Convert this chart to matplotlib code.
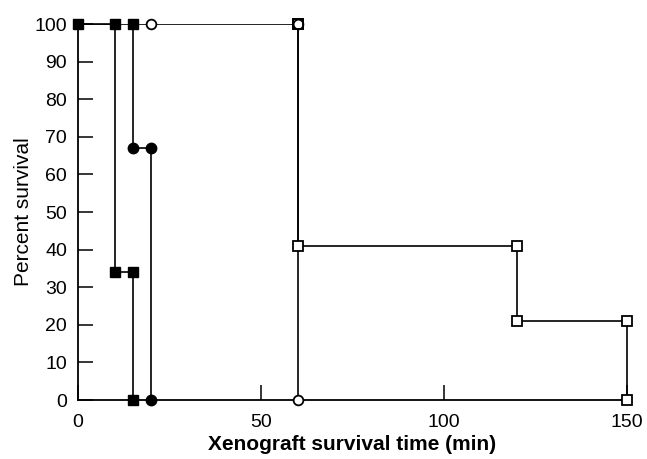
import matplotlib.pyplot as plt

plt.rcParams['font.family'] = ['Liberation Sans', 'DejaVu Sans']

# survival curves (time in min, percent survival), step vertices
t_sq_fill = [0, 10, 10, 15, 15]
s_sq_fill = [100, 100, 34, 34, 0]

t_ci_fill = [15, 15, 20, 20]
s_ci_fill = [100, 67, 67, 0]

t_ci_open = [0, 20, 60, 60]
s_ci_open = [100, 100, 100, 0]

t_sq_open = [60, 60, 120, 120, 150, 150]
s_sq_open = [100, 41, 41, 21, 21, 0]

xticks = [0, 50, 100, 150]
yticks = list(range(0, 101, 10))

fig = plt.figure(figsize=(6.47, 4.59), dpi=100)
ax = fig.add_axes([0.1206, 0.1285, 0.8485, 0.8192])

lw = 1.2
# open circle curve (line first so the others sit on top)
ax.plot(t_ci_open, s_ci_open, color='black', lw=lw, zorder=2)
# open square curve
ax.plot(t_sq_open, s_sq_open, color='black', lw=lw, marker='s', ms=7,
        mfc='white', mec='black', mew=1.3, clip_on=False, zorder=3)
ax.plot(t_ci_open[1:], s_ci_open[1:], ls='none', marker='o', ms=7,
        mfc='white', mec='black', mew=1.3, clip_on=False, zorder=4)
ax.plot(t_sq_open[0], s_sq_open[0], ls='none', marker='s', ms=7,
        mfc='none', mec='black', mew=1.3, clip_on=False, zorder=5)

# filled circle curve
ax.plot(t_ci_fill, s_ci_fill, color='black', lw=lw, zorder=3)
ax.plot(t_ci_fill[1:], s_ci_fill[1:], ls='none', marker='o', ms=7.5,
        color='black', clip_on=False, zorder=4)

# filled square curve
ax.plot(t_sq_fill, s_sq_fill, color='black', lw=lw, marker='s', ms=7,
        clip_on=False, zorder=5)
ax.plot([t_ci_fill[0]], [s_ci_fill[0]], ls='none', marker='s', ms=7,
        color='black', clip_on=False, zorder=5)

ax.set_xlim(0, 150)
ax.set_ylim(0, 100)
ax.set_xticks(xticks)
ax.set_yticks(yticks)
ax.tick_params(direction='in', length=11, width=1.1, labelsize=14, pad=8)
ax.tick_params(axis='x', pad=10)
for side in ['top', 'right']:
    ax.spines[side].set_visible(False)
for side in ['left', 'bottom']:
    ax.spines[side].set_linewidth(1.3)

ax.set_xlabel('Xenograft survival time (min)', fontsize=15, fontweight='semibold', labelpad=3)
ax.set_ylabel('Percent survival', fontsize=15, labelpad=1)

fig.savefig('out.png', dpi=100)
